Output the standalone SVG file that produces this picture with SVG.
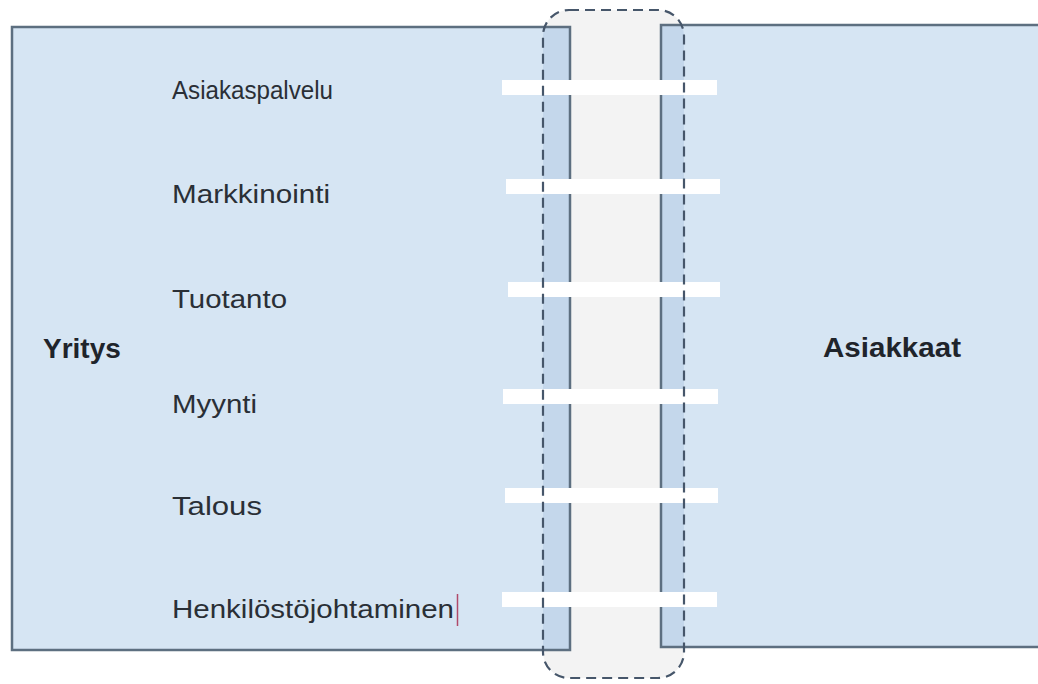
<svg xmlns="http://www.w3.org/2000/svg" width="1038" height="684" viewBox="0 0 1038 684">
  <style>
    .box { fill: #d6e5f3; }
    .border { fill: none; stroke: #5d6f80; stroke-width: 2.5; }
    .overlap { fill: #c4d7eb; }
    .bar { fill: #ffffff; }
    .lbl { font-family: "Liberation Sans", Arial, sans-serif; font-size: 26px; fill: #2a2f36; }
    .title { font-family: "Liberation Sans", Arial, sans-serif; font-size: 28px; font-weight: bold; fill: #1f242b; }
    .dash { fill: none; stroke: #46566a; stroke-width: 2.2; stroke-dasharray: 10 6; }
  </style>
  <defs>
    <clipPath id="bandClip">
      <rect x="543" y="10" width="141" height="668" rx="26" ry="26"/>
    </clipPath>
  </defs>
  <rect x="0" y="0" width="1038" height="684" fill="#ffffff"/>

  <g id="band-fill">
    <rect x="543" y="10" width="141" height="668" rx="26" ry="26" fill="#f3f3f3"/>
  </g>

  <g id="yritys">
    <rect class="box" x="12" y="27" width="558" height="623"/>
    <rect class="overlap" x="543" y="27" width="27" height="623" clip-path="url(#bandClip)"/>
    <rect class="border" x="12" y="27" width="558" height="623"/>
    <text class="title" x="43" y="358">Yritys</text>
  </g>

  <g id="asiakkaat">
    <rect class="box" x="661" y="25" width="400" height="622"/>
    <rect class="overlap" x="661" y="25" width="23" height="622" clip-path="url(#bandClip)"/>
    <rect class="border" x="661" y="25" width="400" height="622"/>
    <text class="title" x="823" y="357" textLength="138" lengthAdjust="spacingAndGlyphs">Asiakkaat</text>
  </g>

  <g id="connectors">
    <rect class="bar" x="502" y="80" width="215" height="15"/>
    <rect class="bar" x="506" y="179" width="214" height="15"/>
    <rect class="bar" x="508" y="282" width="212" height="15"/>
    <rect class="bar" x="503" y="389" width="215" height="15"/>
    <rect class="bar" x="505" y="488" width="213" height="15"/>
    <rect class="bar" x="502" y="592" width="215" height="15"/>
  </g>

  <g id="rajapinta">
    <rect class="dash" x="543" y="10" width="141" height="668" rx="26" ry="26"/>
  </g>

  <g id="toiminnot">
    <text id="asiakaspalvelu" class="lbl" x="172" y="99" textLength="161" lengthAdjust="spacingAndGlyphs">Asiakaspalvelu</text>
    <text id="markkinointi" class="lbl" x="172" y="203" textLength="158" lengthAdjust="spacingAndGlyphs">Markkinointi</text>
    <text id="tuotanto" class="lbl" x="172" y="308" textLength="115" lengthAdjust="spacingAndGlyphs">Tuotanto</text>
    <text id="myynti" class="lbl" x="172" y="413" textLength="85" lengthAdjust="spacingAndGlyphs">Myynti</text>
    <text id="talous" class="lbl" x="172" y="515" textLength="90" lengthAdjust="spacingAndGlyphs">Talous</text>
    <text id="henkilostojohtaminen" class="lbl" x="172" y="618" textLength="282" lengthAdjust="spacingAndGlyphs">Henkilöstöjohtaminen</text>
    <line x1="457.5" y1="594" x2="457.5" y2="626" stroke="#b04a6a" stroke-width="1.5"/>
  </g>
</svg>
